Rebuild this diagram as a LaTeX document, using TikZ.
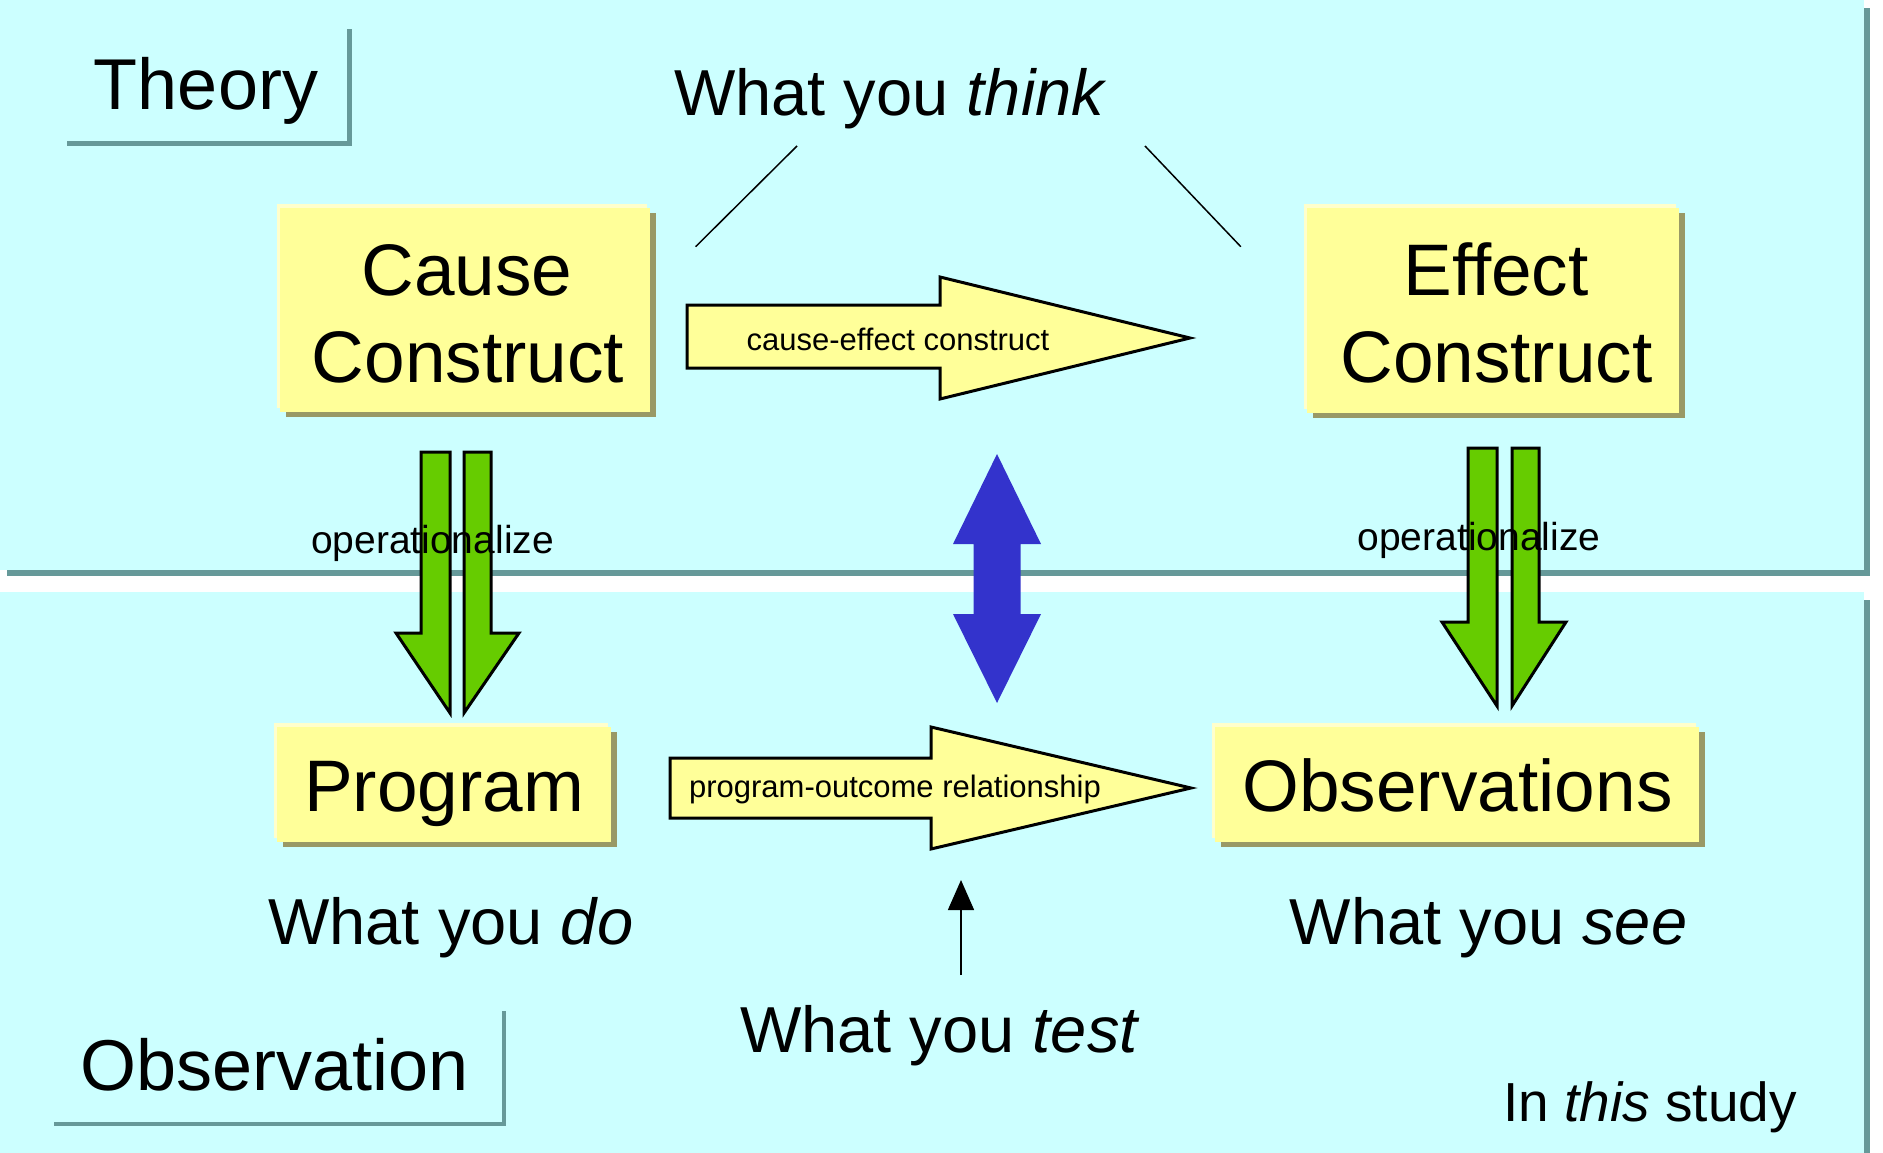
\documentclass[tikz,border=0pt]{standalone}
\usepackage{fontspec}
\setmainfont{Liberation Sans}
\usetikzlibrary{shadows,arrows.meta}
\definecolor{panel}{HTML}{CCFFFF}
\definecolor{panelshadow}{HTML}{669999}
\definecolor{boxfill}{HTML}{FFFF99}
\definecolor{boxlight}{HTML}{FFFFCC}
\definecolor{boxshadow}{HTML}{999966}
\definecolor{opgreen}{HTML}{66CC00}
\definecolor{testblue}{HTML}{3333CC}
\begin{document}
\begin{tikzpicture}[x=1pt,y=-1pt,
  ybox/.style={fill=boxfill, draw=none, inner sep=0pt,
     general shadow={fill=boxlight, shadow xshift=-3pt, shadow yshift=4pt},
     general shadow={fill=boxshadow, shadow xshift=6pt, shadow yshift=-5pt}},
  bigtxt/.style={inner sep=0pt, anchor=base, font=\fontsize{73}{87}\selectfont},
  labeltxt/.style={inner sep=0pt, anchor=base, font=\fontsize{72}{86}\selectfont},
  whattxt/.style={inner sep=0pt, anchor=base, font=\fontsize{65}{78}\selectfont},
  studytxt/.style={inner sep=0pt, anchor=base, font=\fontsize{55}{66}\selectfont},
  optxt/.style={inner sep=0pt, anchor=base, font=\fontsize{39}{46}\selectfont},
  arrtxt/.style={inner sep=0pt, anchor=base, font=\fontsize{31}{37}\selectfont},
  labelline/.style={draw=panelshadow, line width=4.5pt},
  fatarrow/.style={fill=boxfill, draw=black, line width=3pt, line join=miter},
  greenarrow/.style={fill=opgreen, draw=black, line width=3pt, line join=miter},
  thinline/.style={draw=black, line width=1.5pt}
]
\useasboundingbox (0,0) rectangle (1883,1153);
\fill[white] (0,0) rectangle (1883,1153);

% panels
\fill[panelshadow] (7,8) rectangle (1870,576);
\fill[panel] (0,0) rectangle (1864,570);
\fill[panelshadow] (7,600) rectangle (1870,1153);
\fill[panel] (0,592) rectangle (1864,1153);

% label corner lines
\draw[labelline] (67,143.5) -- (349.5,143.5) -- (349.5,29);
\draw[labelline] (54,1124) -- (504,1124) -- (504,1011);

% boxes
\node[ybox, minimum width=370pt, minimum height=204pt] (cause) at (465,310) {};
\node[ybox, minimum width=372pt, minimum height=205pt] (effect) at (1493,310.5) {};
\node[ybox, minimum width=334pt, minimum height=115pt] (program) at (444,784.5) {};
\node[ybox, minimum width=484pt, minimum height=115pt] (observ) at (1457,784.5) {};

% box texts
\node[bigtxt] (causeA) at (467,295) {Cause};
\node[bigtxt] (causeB) at (468,382) {Construct};
\node[bigtxt] (effectA) at (1496,295) {Effect};
\node[bigtxt] (effectB) at (1496.5,382) {Construct};
\node[bigtxt] (programT) at (444,811) {Program};
\node[bigtxt] (observT) at (1457.5,811) {Observations};

% cause-effect arrow
\draw[fatarrow] (687,305) -- (940,305) -- (940,277) -- (1190,338) -- (940,399) -- (940,368) -- (687,368) -- cycle;
\node[arrtxt] (cetxt) at (898,350) {cause-effect construct};

% program-outcome arrow
\draw[fatarrow] (670,758) -- (931,758) -- (931,727) -- (1191,788) -- (931,849) -- (931,818) -- (670,818) -- cycle;
\node[arrtxt] (potxt) at (895,797) {program-outcome relationship};

% green operationalize arrows (left)
\draw[greenarrow] (421,452) -- (450,452) -- (450,713) -- (396,633) -- (421,633) -- cycle;
\draw[greenarrow] (464,452) -- (491,452) -- (491,633) -- (519,633) -- (464,713) -- cycle;
% green operationalize arrows (right)
\draw[greenarrow] (1468,448) -- (1497,448) -- (1497,706) -- (1442,622) -- (1468,622) -- cycle;
\draw[greenarrow] (1512,448) -- (1539,448) -- (1539,622) -- (1566,622) -- (1512,706) -- cycle;
\node[optxt] (opL) at (432.5,553) {operationalize};
\node[optxt] (opR) at (1479,550) {operationalize};

% blue double arrow
\fill[testblue] (997,454) -- (1041,544) -- (1020.5,544) -- (1020.5,614) -- (1041,614) -- (997,703)
  -- (953,614) -- (973.5,614) -- (973.5,544) -- (953,544) -- cycle;

% texts
\node[labeltxt] (theory) at (206,110) {Theory};
\node[labeltxt] (observation) at (274.6,1090.7) {Observation};
\node[whattxt] (think) at (890.5,116) {What you \textit{think}};
\node[whattxt] (do) at (450.8,944) {What you \textit{do}};
\node[whattxt] (see) at (1488.5,944) {What you \textit{see}};
\node[whattxt] (test) at (940,1052) {What you \textit{test}};
\node[studytxt] (study) at (1650,1121) {In \textit{this} study};

% thin lines from "What you think"
\coordinate (thinkL) at (797,146);
\coordinate (causeTop) at (695.6,246.7);
\coordinate (thinkR) at (1145,146);
\coordinate (effectTop) at (1240.8,246.7);
\draw[thinline] (thinkL) -- (causeTop);
\draw[thinline] (thinkR) -- (effectTop);

% small arrow to program-outcome relationship
\coordinate (testtail) at (961,975);
\coordinate (testtip) at (961,880);
\draw[thinline, -{Triangle[width=26pt,length=30pt]}] (testtail) -- (testtip);
\end{tikzpicture}
\end{document}
